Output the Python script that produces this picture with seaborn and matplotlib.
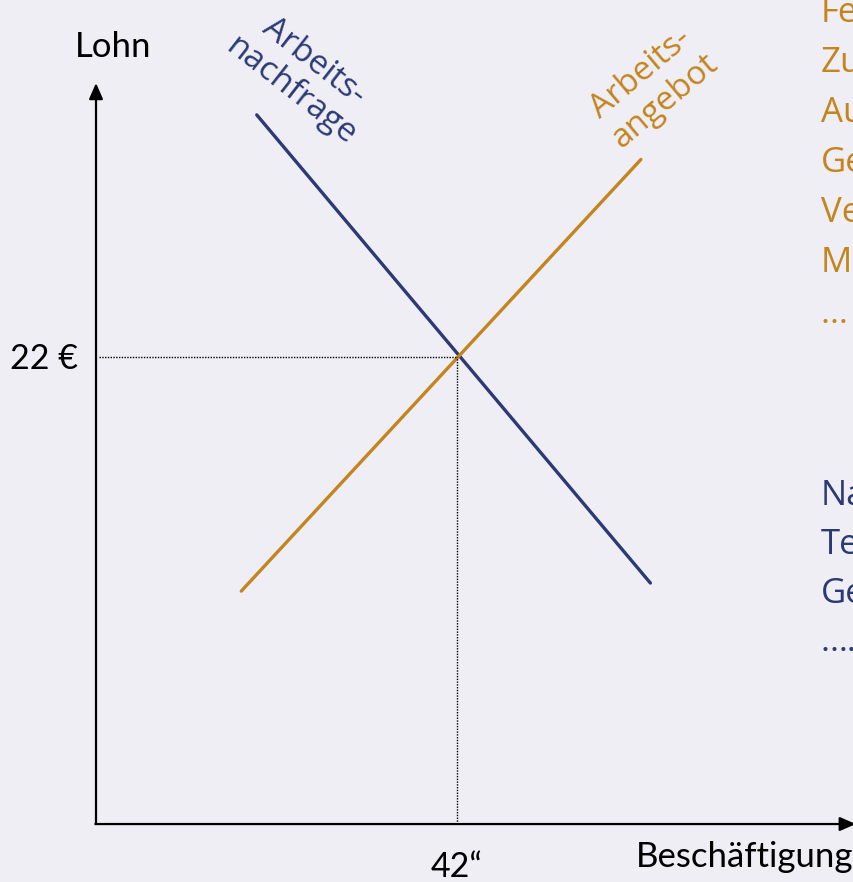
import matplotlib.pyplot as plt
import seaborn as sns
import pandas as pd

# curve endpoints in chart units (Beschäftigung, Lohn)
demand_x = [18.7, 64.5]
demand_y = [33.4, 11.35]
supply_x = [16.9, 63.4]
supply_y = [10.97, 31.3]

eq_x = 42
eq_y = 22
x_tick = "42“"
y_tick = "22 €"

supply_factors = ["Fe", "Zu", "Au", "Ge", "Ve", "M", "…"]
demand_factors = ["Na", "Te", "Ge", "…."]

BG = "#EFEEF5"
NAVY = "#2B3A74"
ORANGE = "#C4841E"

sns.set_theme(style="white", rc={"axes.facecolor": BG, "figure.facecolor": BG})
plt.rcParams['font.family'] = ['Lato', 'DejaVu Sans']

fig = plt.figure(figsize=(8.54, 8.82), dpi=100)
ax = fig.add_axes([0, 0, 1, 1])
ax.set_xlim(-11.17, 88.19)
ax.set_ylim(-2.73, 38.81)
ax.axis("off")

df = pd.DataFrame({
    "x": demand_x + supply_x,
    "y": demand_y + supply_y,
    "kurve": ["Nachfrage"] * 2 + ["Angebot"] * 2,
})
sns.lineplot(data=df, x="x", y="y", hue="kurve",
             palette={"Nachfrage": NAVY, "Angebot": ORANGE},
             linewidth=2.4, legend=False, ax=ax)

# axes with arrows
arrow = dict(arrowstyle="-|>,head_width=0.35,head_length=0.8",
             color="black", lw=1.6, shrinkA=0, shrinkB=0)
ax.annotate("", xy=(0, 34.9), xytext=(0, 0), arrowprops=arrow, annotation_clip=False)
ax.annotate("", xy=(88.4, 0), xytext=(-0.08, 0), arrowprops=arrow, annotation_clip=False)

# dotted guides
ax.plot([0.4, eq_x], [eq_y, eq_y], color="black", ls=(0, (1, 1)), lw=1)
ax.plot([eq_x, eq_x], [0, eq_y], color="black", ls=(0, (1, 1)), lw=1)

ax.text(2, 36.6, "Lohn", fontsize=25, ha="center", va="center", color="black")
ax.text(-6.1, eq_y - 0.1, y_tick, fontsize=24.5, ha="center", va="center", color="black")
ax.text(eq_x, -2.0, x_tick, fontsize=24.5, ha="center", va="center", color="black")
ax.text(88.15, -1.55, "Beschäftigung", fontsize=25, ha="right", va="center", color="black")

ax.text(24.0, 35.2, "Arbeits-\nnachfrage", fontsize=24, color=NAVY, rotation=-38,
        ha="center", va="center", linespacing=1.15, rotation_mode="anchor",
        family=["Open Sans", "DejaVu Sans"])
ax.text(64.8, 34.7, "Arbeits-\nangebot", fontsize=24, color=ORANGE, rotation=40,
        ha="center", va="center", linespacing=1.15, rotation_mode="anchor",
        family=["Open Sans", "DejaVu Sans"])

# side notes, cut off at right edge
x_side = 84.3
for i, t in enumerate(supply_factors):
    ax.text(x_side, 38.2 - i * 2.36, t, fontsize=25, color=ORANGE, ha="left", va="center",
            family=["Open Sans", "DejaVu Sans"])
for i, t in enumerate(demand_factors):
    ax.text(x_side, 15.45 - i * 2.3, t, fontsize=25, color=NAVY, ha="left", va="center",
            family=["Open Sans", "DejaVu Sans"])

plt.savefig("out.png", dpi=100, facecolor=BG)
plt.close()
